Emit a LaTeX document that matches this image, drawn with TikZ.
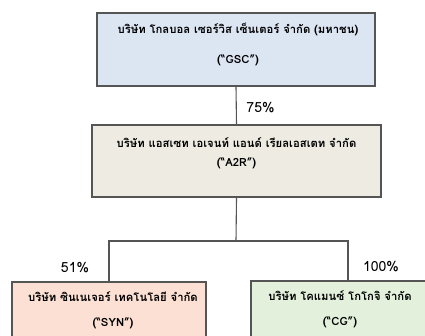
\documentclass[tikz,border=0pt]{standalone}
\usepackage{fontspec}
\usepackage{tikz}
\usetikzlibrary{positioning,calc}
\newfontfamily\thaifont[Script=Thai]{Loma}
\definecolor{boxline}{RGB}{85,85,85}
\definecolor{fillgsc}{RGB}{220,229,242}
\definecolor{filla2r}{RGB}{237,235,226}
\definecolor{fillsyn}{RGB}{251,224,211}
\definecolor{fillcg}{RGB}{227,240,219}

\begin{document}
\begin{tikzpicture}[
  x=1pt, y=-1pt, font=\thaifont\fontsize{10}{12}\selectfont,
  co/.style={draw=boxline, fill=#1, line width=1.1pt, inner sep=0pt,
    minimum height=72pt},
  txt/.style={align=center, anchor=north, inner sep=0pt,
    font=\thaifont\bfseries\fontsize{11.3}{13}\selectfont},
  link/.style={draw=boxline, line width=1.1pt},
  pct/.style={font=\thaifont\fontsize{14}{16}\selectfont, inner sep=1pt},
]
\useasboundingbox (0,0) rectangle (425,335);
\clip (0,0) rectangle (425,335);
% companies
\node[co=fillgsc, minimum width=278pt, minimum height=73pt] (gsc) at (236,49.5) {};
\node[co=filla2r, minimum width=289pt] (a2r) at (236.5,161) {};
\node[co=fillsyn, minimum width=194pt] (syn) at (109,318) {};
\node[co=fillcg, minimum width=194pt] (cg) at (348,317) {};
% names
\node[txt] (gsc-t) at ([xshift=2pt,yshift=-10pt]gsc.north)
  {บริษัท โกลบอล เซอร์วิส เซ็นเตอร์ จำกัด (มหาชน)\\[17pt](“GSC”)};
\node[txt] (a2r-t) at ([yshift=-13pt]a2r.north)
  {บริษัท แอสเซท เอเจนท์ แอนด์ เรียลเอสเตท จำกัด\\[6pt](“A2R”)};
\node[txt] (syn-t) at ([xshift=4pt,yshift=-10pt]syn.north)
  {บริษัท ซินเนเจอร์ เทคโนโลยี จำกัด\\[12pt](“SYN”)};
\node[txt] (cg-t) at ([xshift=-8pt,yshift=-10pt]cg.north)
  {บริษัท โคแมนซ์ โกโกจิ จำกัด\\[12pt](“CG”)};
% links
\coordinate (fork) at (236,241);
\draw[link] (gsc.south) -- (a2r.north);
\draw[link] (a2r.south) -- (fork);
\draw[link] (syn.north) |- (fork) -| (cg.north);
% shares
\node[pct, anchor=west] (p75) at ($(gsc.south)!0.55!(a2r.north)+(9,0)$) {75\%};
\node[pct, anchor=south] (p51) at ([xshift=-34pt,yshift=7pt]syn.north) {51\%};
\node[pct, anchor=south] (p100) at ([xshift=33pt,yshift=7pt]cg.north) {100\%};
\end{tikzpicture}
\end{document}
